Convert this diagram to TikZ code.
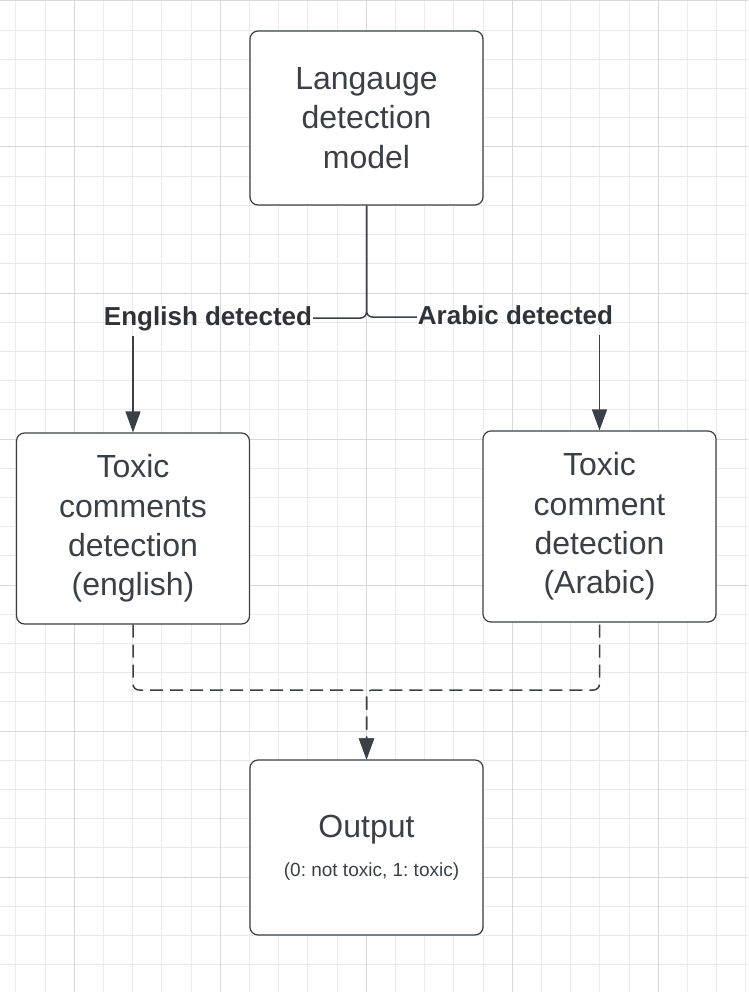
\documentclass[tikz,border=0pt]{standalone}
\usepackage{fontspec}
\setmainfont{Liberation Sans}
\usetikzlibrary{arrows.meta}

\definecolor{lcdark}{RGB}{58,64,72}
\definecolor{gridminor}{RGB}{235,235,235}
\definecolor{gridmajor}{RGB}{216,216,216}

\tikzset{
  box/.style={draw=lcdark, fill=white, line width=1.2pt, rounded corners=8pt,
    align=center, text=lcdark, font=\fontsize{32}{39.3}\selectfont,
    minimum width=233pt, inner sep=0pt},
  lbl/.style={text=lcdark!80!black, font=\bfseries\fontsize{26}{30}\selectfont,
    text height=19pt, text depth=5pt, inner sep=1pt},
  conn/.style={draw=lcdark, line width=1.5pt, rounded corners=6pt},
  arr/.style={conn, -{Triangle[width=15pt,length=21pt]}},
  darr/.style={arr, dash pattern=on 13pt off 7pt}
}

\frenchspacing
\begin{document}
\begin{tikzpicture}[x=1pt,y=-1pt]
\useasboundingbox (0,0) rectangle (748,992);

% grid
\foreach \i in {-2,...,23} {\pgfmathsetmacro\gx{74.3+29.2*\i}
  \draw[gridminor, line width=1pt] (\gx,0) -- (\gx,992);}
\foreach \i in {0,...,33} {\pgfmathsetmacro\gy{1+29.2*\i}
  \draw[gridminor, line width=1pt] (0,\gy) -- (748,\gy);}
\foreach \i in {0,...,4} {\pgfmathsetmacro\gx{74.3+146*\i}
  \draw[gridmajor, line width=1pt] (\gx,0) -- (\gx,992);}
\foreach \i in {0,...,6} {\pgfmathsetmacro\gy{1+146*\i}
  \draw[gridmajor, line width=1pt] (0,\gy) -- (748,\gy);}

% boxes
\node[box, minimum height=174pt] (lang) at (366.5,118) {Langauge\\detection\\model};
\node[box, minimum height=191pt] (tce) at (133,528.5) {Toxic\\comments\\detection\\(english)};
\node[box, minimum height=191pt] (tca) at (599.5,526.5) {Toxic\\comment\\detection\\(Arabic)};
\node[box, minimum height=175pt] (out) at (366.5,847.5)
  {Output\\[0pt]{\fontsize{19}{23}\selectfont\hspace*{10pt}(0: not toxic, 1: toxic)}};

% labels
\node[lbl] (eng) at (208,318) {English detected};
\node[lbl] (arb) at (515.5,317) {Arabic detected};

\coordinate (merge) at (366.5,690);

% connectors
\draw[conn] (lang.south) |- (eng.east);
\draw[conn] (lang.south) |- (arb.west);
\draw[arr, shorten <=5pt] (tce.north |- eng.south) -- (tce.north);
\draw[arr, shorten <=5pt] (tca.north |- arb.south) -- (tca.north);
\draw[darr] (tce.south) |- (merge) -- (out.north);
\draw[darr, dash phase=18pt] (tca.south) |- (merge) -- (out.north);
\end{tikzpicture}
\end{document}
